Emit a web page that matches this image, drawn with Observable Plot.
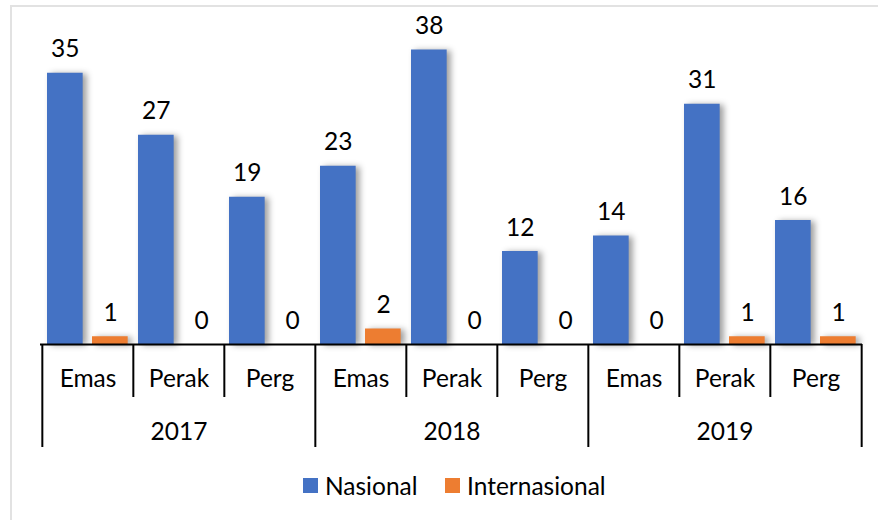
<!DOCTYPE html>
<html>
<head>
<meta charset="utf-8">
<script src="https://cdn.jsdelivr.net/npm/d3@7"></script>
<script src="https://cdn.jsdelivr.net/npm/@observablehq/plot@0.6"></script>
<style>
  html, body { margin: 0; padding: 0; background: #fff; }
  #wrap { position: relative; width: 878px; height: 520px; overflow: hidden; font-family: Lato, "Open Sans", sans-serif; }
  #bt { position: absolute; left: 10px; top: 5px; width: 868px; height: 2px; background: #e2e2e2; }
  #bl { position: absolute; left: 10px; top: 5px; width: 2px; height: 515px; background: #e2e2e2; }
  #chart svg { display: block; }
  #chart g[aria-label="bar"] rect { filter: drop-shadow(4px 1px 3px rgba(0,0,0,0.38)); }
  #legend { position: absolute; left: 0; top: 472px; width: 878px; height: 26px; font-size: 24.5px; color: #000; }
  .item { position: absolute; top: 0; display: flex; align-items: center; height: 26px; }
  .sw { width: 15px; height: 15px; margin-right: 7px; }
</style>
</head>
<body>
<div id="wrap">
  <div id="chart"></div>
  <div id="legend"></div>
  <div id="bt"></div>
  <div id="bl"></div>
</div>
<script>
const years = ["2017", "2018", "2019"];
const medals = ["Emas", "Perak", "Perg"];
const series = ["Nasional", "Internasional"];
const nasional = [35, 27, 19, 23, 38, 12, 14, 31, 16];
const internasional = [1, 0, 0, 2, 0, 0, 0, 1, 1];
const colors = ["#4472C4", "#ED7D31"];

const cats = [];
years.forEach(y => medals.forEach(m => cats.push({key: y + "|" + m, year: y, medal: m})));
const keys = cats.map(c => c.key);
const rows = cats.map((c, i) => ({...c, nas: nasional[i], int: internasional[i]}));

const W = 878, H = 462, mL = 40, mR = 16, mT = 34, mB = 118;
const step = (W - mL - mR) / keys.length;
const half = step / 2;
const FS = 24.5;

const chart = Plot.plot({
  width: W, height: H,
  marginLeft: mL, marginRight: mR, marginTop: mT, marginBottom: mB,
  style: {fontFamily: "Lato, 'Open Sans', sans-serif", fontSize: FS + "px", color: "#000", background: "transparent"},
  x: {type: "band", domain: keys, padding: 0, axis: null},
  y: {domain: [0, 40], axis: null},
  marks: [
    Plot.barY(rows, {x: "key", y: "nas", fill: colors[0], insetLeft: 5, insetRight: step - 41}),
    Plot.barY(rows, {x: "key", y: "int", fill: colors[1], insetLeft: 50, insetRight: step - 86}),
    Plot.text(rows, {x: "key", y: "nas", text: d => String(d.nas), dx: -22.7, dy: -16, lineAnchor: "bottom", fontSize: FS, fill: "#000"}),
    Plot.text(rows, {x: "key", y: "int", text: d => String(d.int), dx: 22.7, dy: -16, lineAnchor: "bottom", fontSize: FS, fill: "#000"}),
    Plot.ruleY([0], {stroke: "#000", strokeWidth: 2}),
    Plot.ruleX(rows.filter(d => d.medal !== medals[0]), {x: "key", dx: -half, y1: 0, y2: 0, insetBottom: -53, stroke: "#000", strokeWidth: 2}),
    Plot.ruleX(rows.filter(d => d.medal === medals[0]), {x: "key", dx: -half, y1: 0, y2: 0, insetBottom: -103, stroke: "#000", strokeWidth: 2}),
    Plot.ruleX(rows.slice(-1), {x: "key", dx: half, y1: 0, y2: 0, insetBottom: -103, stroke: "#000", strokeWidth: 2}),
    Plot.text(rows, {x: "key", y: 0, text: "medal", dy: 35, lineAnchor: "middle", fontSize: FS, fill: "#000"}),
    Plot.text(rows.filter(d => d.medal === medals[1]), {x: "key", y: 0, text: "year", dy: 88, lineAnchor: "middle", fontSize: FS, fill: "#000"})
  ]
});
document.getElementById("chart").appendChild(chart);

const legend = document.getElementById("legend");
const lefts = [303, 445];
series.forEach((s, i) => {
  const it = document.createElement("div");
  it.className = "item";
  it.style.left = lefts[i] + "px";
  it.innerHTML = `<span class="sw" style="background:${colors[i]}"></span><span>${s}</span>`;
  legend.appendChild(it);
});
</script>
</body>
</html>
